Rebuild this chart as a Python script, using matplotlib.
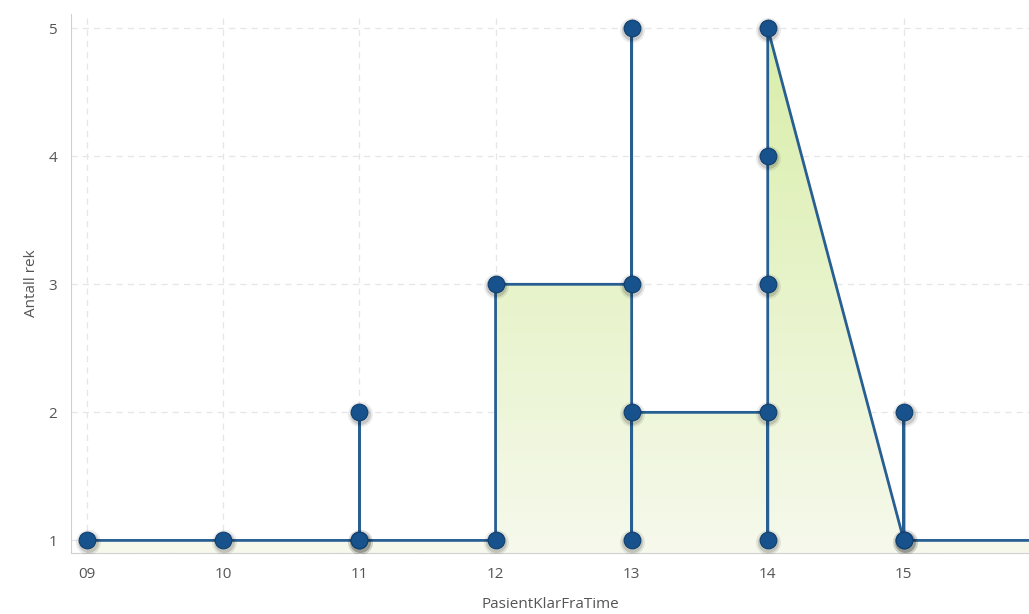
import numpy as np
import matplotlib.pyplot as plt
from matplotlib.colors import LinearSegmentedColormap
from matplotlib import transforms

plt.rcParams['font.family'] = ['Open Sans', 'DejaVu Sans']

# data: points in drawing order (hour, count)
hours = [9, 10, 11, 11, 11, 12, 12, 13, 13, 13, 13, 14, 14, 14, 14, 14, 15, 15, 15, 16]
counts = [1, 1, 1, 2, 1, 1, 3, 3, 5, 1, 2, 2, 1, 3, 4, 5, 1, 2, 1, 1]
tick_hours = [9, 10, 11, 12, 13, 14, 15]
tick_labels = ['09', '10', '11', '12', '13', '14', '15']
y_ticks = [1, 2, 3, 4, 5]

LINE = '#285f93'
MARK = '#17528c'
GRAY = '#555555'

fig = plt.figure(figsize=(10.29, 6.14), dpi=100)
ax = fig.add_axes([0.069, 0.099, 0.931, 0.878])

xmin, xmax = 8.88, 15.92
ymin, ymax = 0.9, 5.11
ax.set_xlim(xmin, xmax)
ax.set_ylim(ymin, ymax)

# gradient fill under the line
fill = ax.fill_between(hours, counts, ymin, color='none', lw=0)
cmap = LinearSegmentedColormap.from_list('g', ['#f6f9ec', '#d9eea9'])
grad = np.linspace(0, 1, 256).reshape(-1, 1)
img = ax.imshow(grad, cmap=cmap, aspect='auto', origin='lower',
                extent=[xmin, xmax, ymin, 5.0], zorder=1)
img.set_clip_path(fill.get_paths()[0], transform=ax.transData)

ax.plot(hours, counts, color=LINE, lw=2, zorder=3)

# soft marker shadows, shifted a little down, then markers
shift = transforms.offset_copy(ax.transData, fig=fig, x=0.5, y=-1.5, units='points')
ax.plot(hours, counts, 'o', ms=18, color='black', alpha=0.08, zorder=3.4,
        markeredgewidth=0, transform=shift)
ax.plot(hours, counts, 'o', ms=15, color='black', alpha=0.14, zorder=3.5,
        markeredgewidth=0, transform=shift)
ax.plot(hours, counts, 'o', ms=12, color=MARK, markeredgecolor='#0f3f6e',
        markeredgewidth=0.8, zorder=4)

ax.set_xticks(tick_hours)
ax.set_xticklabels(tick_labels)
ax.set_yticks(y_ticks)
ax.tick_params(length=0, colors=GRAY, labelsize=11, pad=10)
ax.grid(True, ls=(0, (5, 4)), color='#e6e6e6', lw=0.9)
ax.set_axisbelow(True)

for s in ['top', 'right']:
    ax.spines[s].set_visible(False)
for s in ['left', 'bottom']:
    ax.spines[s].set_color('#d0d0d0')

ax.set_xlabel('PasientKlarFraTime', color=GRAY, fontsize=11, labelpad=11)
ax.set_ylabel('Antall rek', color=GRAY, fontsize=11, labelpad=7)

fig.savefig('out.png', dpi=100)
